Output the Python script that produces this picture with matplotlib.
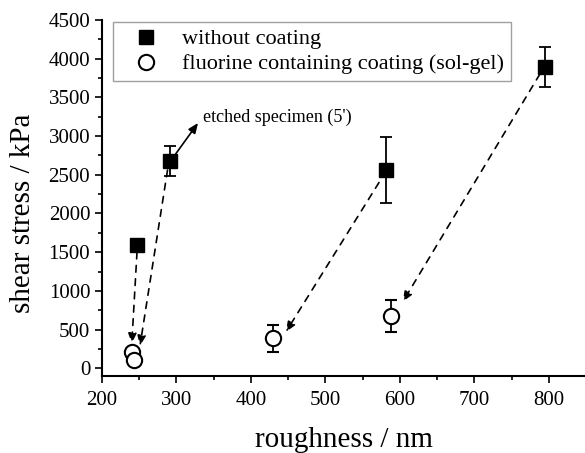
import matplotlib
matplotlib.use('Agg')
import matplotlib.pyplot as plt
from matplotlib.lines import Line2D
from matplotlib.ticker import MultipleLocator

plt.rcParams.update({
    'font.family': 'serif',
    'font.serif': ['Liberation Serif', 'DejaVu Serif'],
    'xtick.direction': 'out', 'ytick.direction': 'out',
})

# without coating
sq_x = [247, 291, 581, 795]
sq_y = [1590, 2675, 2560, 3895]
sq_err = [0, 195, 430, 260]

# fluorine containing coating (sol-gel)
ci_x = [240, 243, 429, 588]
ci_y = [205, 105, 385, 675]
ci_err = [0, 40, 175, 210]

# dashed arrows: (x0, y0) -> (x1, y1)
arr_start = [(247, 1500), (288, 2560), (572, 2400), (788, 3800)]
arr_end = [(240, 320), (251, 290), (447, 470), (604, 860)]

fig = plt.figure(figsize=(5.85, 4.53), dpi=100)
ax = fig.add_axes([102/585, 77/453, 484/585, 356/453])

ax.errorbar(sq_x, sq_y, yerr=sq_err, fmt='s', color='black', ms=10,
            capsize=4, elinewidth=1.3, capthick=1.3, zorder=3)
ax.errorbar(ci_x, ci_y, yerr=ci_err, fmt='o', color='black', mfc='white', ms=11,
            mew=1.5, capsize=4, elinewidth=1.3, capthick=1.3, zorder=3)

for (x0, y0), (x1, y1) in zip(arr_start, arr_end):
    ax.annotate('', xy=(x1, y1), xytext=(x0, y0),
                arrowprops=dict(arrowstyle='-|>,head_length=0.6,head_width=0.25',
                                linestyle=(0, (4, 4)), color='black', lw=1.2,
                                shrinkA=0, shrinkB=0))

ax.annotate('', xy=(329, 3170), xytext=(299, 2770),
            arrowprops=dict(arrowstyle='-|>,head_length=0.6,head_width=0.25',
                            color='black', lw=1.2, shrinkA=0, shrinkB=0))
ax.text(336, 3240, "etched specimen (5')", fontsize=13, va='center')

ax.set_xlim(200, 850)
ax.set_ylim(-100, 4500)
ax.xaxis.set_major_locator(MultipleLocator(100))
ax.xaxis.set_minor_locator(MultipleLocator(50))
ax.yaxis.set_major_locator(MultipleLocator(500))
ax.yaxis.set_minor_locator(MultipleLocator(250))
ax.tick_params(which='major', length=5, width=1.2, labelsize=15)
ax.tick_params(axis='x', which='major', pad=6)
ax.tick_params(which='minor', length=3, width=1.2)
ax.spines['top'].set_visible(False)
ax.spines['right'].set_visible(False)
ax.spines['left'].set_linewidth(1.5)
ax.spines['bottom'].set_linewidth(1.5)

ax.set_xlabel('roughness / nm', fontsize=21, labelpad=12)
ax.set_ylabel('shear stress / kPa', fontsize=21)
ax.yaxis.set_label_coords(-0.137, 0.458)

handles = [
    Line2D([], [], marker='s', color='black', ls='none', ms=10),
    Line2D([], [], marker='o', color='black', mfc='white', mew=1.5, ls='none', ms=11),
]
labels = ['without coating', 'fluorine containing coating (sol-gel)']
leg = ax.legend(handles, labels, loc='upper left', bbox_to_anchor=(0.023, 0.994),
                borderaxespad=0, fontsize=16, handlelength=2.4,
                frameon=True, fancybox=False, edgecolor='#888888',
                handletextpad=0.4, borderpad=0.3, labelspacing=0.2, numpoints=1)
leg.get_frame().set_linewidth(1.0)

fig.savefig('out.png', dpi=100)
